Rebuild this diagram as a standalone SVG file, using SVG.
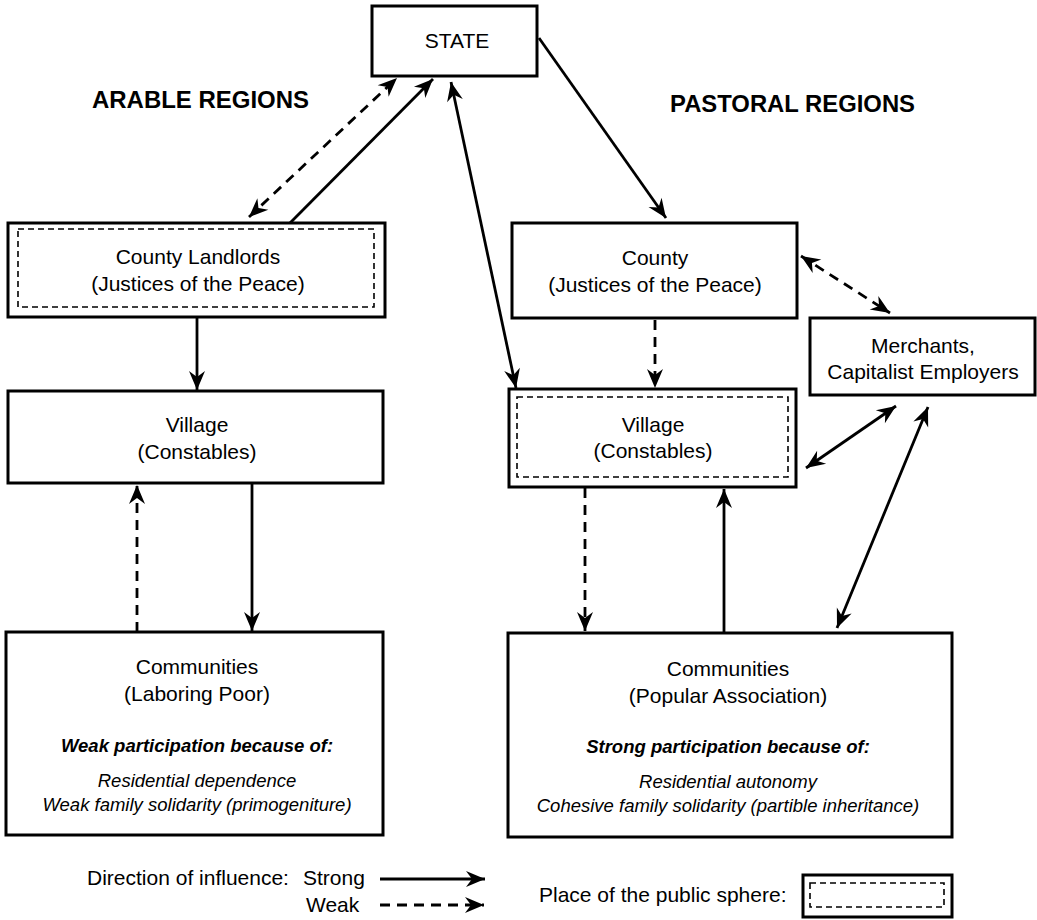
<svg xmlns="http://www.w3.org/2000/svg" width="1037" height="920" viewBox="0 0 1037 920">
<style>
.box{fill:#fff;stroke:#000;stroke-width:3}
.inner{fill:none;stroke:#000;stroke-width:1.6;stroke-dasharray:6 4}
.t{font-family:"Liberation Sans",Arial,sans-serif;font-size:21px;fill:#000;text-anchor:middle}
.h{font-family:"Liberation Sans",Arial,sans-serif;font-size:23px;font-weight:bold;fill:#000}
.bi{font-family:"Liberation Sans",Arial,sans-serif;font-size:18.5px;font-weight:bold;font-style:italic;fill:#000;text-anchor:middle}
.i{font-family:"Liberation Sans",Arial,sans-serif;font-size:18.5px;font-style:italic;fill:#000;text-anchor:middle}
.lg{font-family:"Liberation Sans",Arial,sans-serif;font-size:21px;fill:#000}
.s{fill:none;stroke:#000;stroke-width:2.8;marker-end:url(#ah)}
.d{fill:none;stroke:#000;stroke-width:2.8;stroke-dasharray:10 7;marker-end:url(#ah)}
.both{marker-start:url(#ah)}
</style>
<defs>
<marker id="ah" viewBox="-20 -9 22 18" refX="0" refY="0" markerWidth="22" markerHeight="18" markerUnits="userSpaceOnUse" orient="auto-start-reverse">
<path d="M0,0 L-19,-8 L-13,0 L-19,8 Z" fill="#000"/>
</marker>
</defs>
<rect width="1037" height="920" fill="#fff"/>

<text class="h" x="92" y="108" textLength="217" lengthAdjust="spacingAndGlyphs">ARABLE REGIONS</text>
<text class="h" x="670" y="112" textLength="245" lengthAdjust="spacingAndGlyphs">PASTORAL REGIONS</text>

<g id="connectors">
<line class="d both" x1="249" y1="217" x2="397" y2="78"/>
<line class="s" x1="290" y1="223" x2="433" y2="79"/>
<line class="s both" x1="516" y1="388" x2="451" y2="82"/>
<line class="s" x1="539" y1="38" x2="666" y2="218"/>
<line class="d both" x1="801" y1="256" x2="890" y2="313"/>
<line class="d" x1="655" y1="320" x2="655" y2="388"/>
<line class="s both" x1="806" y1="468" x2="896" y2="406"/>
<line class="s both" x1="928" y1="407" x2="837" y2="628"/>
<line class="d" x1="585" y1="488" x2="585" y2="631"/>
<line class="s" x1="724" y1="633" x2="724" y2="489"/>
<line class="s" x1="197" y1="317" x2="197" y2="390"/>
<line class="d" x1="137" y1="632" x2="137" y2="485"/>
<line class="s" x1="252" y1="483" x2="252" y2="631"/>
</g>

<g id="state">
<rect class="box" x="372" y="6" width="165" height="70"/>
<text class="t" x="457" y="48">STATE</text>
</g>

<g id="county-landlords">
<rect class="box" x="8" y="223" width="377" height="94"/>
<rect class="inner" x="18" y="229" width="356" height="78"/>
<text class="t" x="198" y="264">County Landlords</text>
<text class="t" x="198" y="291">(Justices of the Peace)</text>
</g>

<g id="village-arable">
<rect class="box" x="8" y="391" width="375" height="92"/>
<text class="t" x="197" y="432">Village</text>
<text class="t" x="197" y="459">(Constables)</text>
</g>

<g id="communities-arable">
<rect class="box" x="6" y="632" width="377" height="203"/>
<text class="t" x="197" y="674">Communities</text>
<text class="t" x="197" y="701">(Laboring Poor)</text>
<text class="bi" x="197" y="752">Weak participation because of:</text>
<text class="i" x="197" y="787">Residential dependence</text>
<text class="i" x="197" y="811">Weak family solidarity (primogeniture)</text>
</g>

<g id="county-pastoral">
<rect class="box" x="512" y="223" width="285" height="95"/>
<text class="t" x="655" y="265">County</text>
<text class="t" x="655" y="292">(Justices of the Peace)</text>
</g>

<g id="merchants">
<rect class="box" x="810" y="318" width="225" height="77"/>
<text class="t" x="923" y="353">Merchants,</text>
<text class="t" x="923" y="379">Capitalist Employers</text>
</g>

<g id="village-pastoral">
<rect class="box" x="509" y="389" width="287" height="98"/>
<rect class="inner" x="517" y="397" width="271" height="80"/>
<text class="t" x="653" y="432">Village</text>
<text class="t" x="653" y="458">(Constables)</text>
</g>

<g id="communities-pastoral">
<rect class="box" x="508" y="633" width="444" height="204"/>
<text class="t" x="728" y="676">Communities</text>
<text class="t" x="728" y="703">(Popular Association)</text>
<text class="bi" x="728" y="753">Strong participation because of:</text>
<text class="i" x="728" y="788">Residential autonomy</text>
<text class="i" x="728" y="812">Cohesive family solidarity (partible inheritance)</text>
</g>

<g id="legend">
<text class="lg" x="87" y="885">Direction of influence:</text>
<text class="lg" x="303" y="885">Strong</text>
<text class="lg" x="306" y="912">Weak</text>
<line class="s" x1="380" y1="879" x2="485" y2="879"/>
<line class="d" x1="380" y1="905" x2="484" y2="905"/>
<text class="lg" x="539" y="902">Place of the public sphere:</text>
<rect class="box" x="803" y="875" width="149" height="42"/>
<rect class="inner" x="810" y="883" width="134" height="24"/>
</g>
</svg>
